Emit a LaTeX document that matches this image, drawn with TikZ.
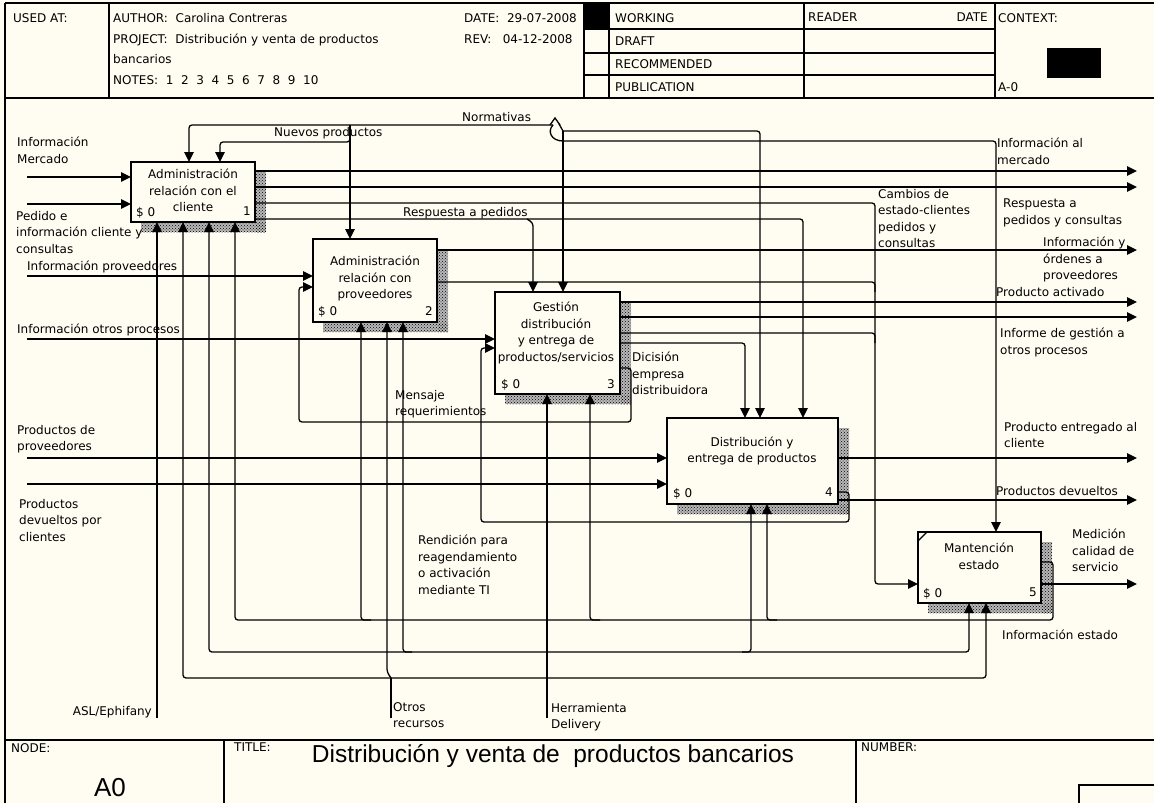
\documentclass[tikz,border=0pt]{standalone}
\usepackage{fontspec}
\setmainfont{DejaVu Sans}
\newfontfamily\arialfont{Liberation Sans}
\usetikzlibrary{arrows.meta,calc,patterns}
\definecolor{paper}{RGB}{255,253,242}
\newcommand\lf{\fontsize{12}{16.5}\selectfont}
\begin{document}
\begin{tikzpicture}[x=1pt,y=-1pt,
  lab/.style={anchor=north west,inner sep=0pt,align=left,font=\lf},
  labr/.style={anchor=north east,inner sep=0pt,align=right,font=\lf},
  btxt/.style={inner sep=0pt,align=center,font=\lf},
  ln/.style={draw,line width=1.3pt,rounded corners=3pt},
  arr/.style={ln,-{Triangle[length=10pt,width=9.5pt]}},
  proc/.style={draw,line width=1.5pt,fill=paper,anchor=north west,inner sep=0pt,outer sep=0pt},
  shdbase/.style={fill=black!28},
  shd/.style={pattern=crosshatch dots,pattern color=black},
  frm/.style={line width=1.9pt},
  thin/.style={line width=1.3pt}]

\fill[paper] (0,0) rectangle (1154,803);
\useasboundingbox (0,0) rectangle (1154,803);

% ---------- header ----------
\draw[frm] (5,3) -- (1154,3);
\draw[frm] (5,98) -- (1154,98);
\draw[frm] (5,3) -- (5,803);
\draw[thin] (109,3) -- (109,98);
\foreach \xx in {584,609,804,995} \draw[thin] (\xx,3) -- (\xx,98);
\foreach \yy in {29,53,75} \draw[thin] (584,\yy) -- (995,\yy);
\fill (584,3) rectangle (609,29);
\fill (1047,48) rectangle (1101,78);

\node[lab] (hUsed) at (13,13) {USED AT:};
\node[lab] (hAuth) at (113,13) {AUTHOR:\ \ Carolina Contreras};
\node[lab] (hProj) at (113,34) {PROJECT:\ \ Distribución y venta de productos};
\node[lab] (hProj2) at (113,54) {bancarios};
\node[lab] (hNotes) at (113,75) {NOTES:\ \ 1\ \ 2\ \ 3\ \ 4\ \ 5\ \ 6\ \ 7\ \ 8\ \ 9\ \ 10};
\node[lab] (hDate) at (464,13) {DATE:\ \ 29-07-2008};
\node[lab] (hRev) at (464,34) {REV:\ \ \ 04-12-2008};
\node[lab] (hWork) at (615,13) {WORKING};
\node[lab] (hDraft) at (615,37) {DRAFT};
\node[lab] (hRec) at (615,59) {RECOMMENDED};
\node[lab] (hPub) at (615,82) {PUBLICATION};
\node[lab] (hRead) at (808,13) {READER};
\node[labr] (hRDate) at (988,13) {DATE};
\node[lab] (hCtx) at (998,13) {CONTEXT:};
\node[lab] (hA0) at (998,82) {A-0};

% ---------- title block ----------
\draw[frm] (5,740) -- (1154,740);
\draw[thin] (224,740) -- (224,803);
\draw[thin] (856,740) -- (856,803);
\draw[thin] (1079,803) -- (1079,785) -- (1154,785);
\node[lab] (fNode) at (11,743) {NODE:};
\node[lab] (fTitle) at (234,743) {TITLE:};
\node[lab] (fNum) at (861,743) {NUMBER:};
\node[inner sep=0pt,font=\arialfont\fontsize{26}{28}\selectfont] (fA0) at (110,788) {A0};
\node[inner sep=0pt,font=\arialfont\fontsize{24.5}{28}\selectfont] (fTtl) at (553,756) {Distribución y venta de\ \ productos bancarios};

% ---------- activity boxes ----------
\node[proc,minimum width=124pt,minimum height=60pt] (b1) at (131,162) {};
\node[proc,minimum width=124pt,minimum height=83pt] (b2) at (313,239) {};
\node[proc,minimum width=125pt,minimum height=102pt] (b3) at (495,292) {};
\node[proc,minimum width=171pt,minimum height=86pt] (b4) at (667,418) {};
\node[proc,minimum width=123pt,minimum height=71pt] (b5) at (918,532) {};

% hatched drop shadows
\foreach \b in {b1,b2,b3,b4,b5} {
  \fill[shdbase] ($(\b.north east)+(1,10)$) rectangle ($(\b.south east)+(11,10)$);
  \fill[shdbase] ($(\b.south west)+(10,1)$) rectangle ($(\b.south east)+(11,10)$);
  \fill[shd] ($(\b.north east)+(1,10)$) rectangle ($(\b.south east)+(11,10)$);
  \fill[shd] ($(\b.south west)+(10,1)$) rectangle ($(\b.south east)+(11,10)$);
}
\draw[thin] ($(b5.north west)+(0,9)$) -- ($(b5.north west)+(9,0)$);

\node[btxt] (t1) at (193,190.5) {Administración\\relación con el\\cliente};
\node[btxt] (t2) at (375,278.5) {Administración\\relación con\\proveedores};
\node[btxt] (t3) at (556,333) {Gestión\\distribución\\y entrega de\\productos/servicios};
\node[btxt] (t4) at (752,451) {Distribución y\\entrega de productos};
\node[btxt] (t5) at (979,556.5) {Mantención\\estado};

\node[lab] (c1) at (136,207) {\$ 0};  \node[labr] (n1) at (251,207) {1};
\node[lab] (c2) at (318,306) {\$ 0};  \node[labr] (n2) at (433,306) {2};
\node[lab] (c3) at (501,379) {\$ 0};  \node[labr] (n3) at (615,379) {3};
\node[lab] (c4) at (673,488) {\$ 0};  \node[labr] (n4) at (833,488) {4};
\node[lab] (c5) at (923,588) {\$ 0};  \node[labr] (n5) at (1037,588) {5};

% ---------- boundary points ----------
\coordinate (iMerc) at (27,177);
\coordinate (iPed) at (27,204);
\coordinate (iProv) at (27,276);
\coordinate (iOtros) at (27,339);
\coordinate (iPdP) at (27,458);
\coordinate (iPdC) at (27,484);
\coordinate (oMerc) at (1137,171);
\coordinate (oResp) at (1137,187);
\coordinate (oOrd) at (1137,250);
\coordinate (oAct) at (1137,302);
\coordinate (oInf) at (1137,317);
\coordinate (oEnt) at (1137,458);
\coordinate (oDev) at (1137,500);
\coordinate (oMed) at (1137,584);
\coordinate (mASL) at (157,718);
\coordinate (mOtros) at (391,718);
\coordinate (mHerr) at (547,718);
\coordinate (jNorm) at (553,125);

% inputs
\draw[arr] (iMerc) -- (iMerc -| b1.west);
\draw[arr] (iPed) -- (iPed -| b1.west);
\draw[arr] (iProv) -- (iProv -| b2.west);
\draw[arr] (iOtros) -- (iOtros -| b3.west);
\draw[arr] (iPdP) -- (iPdP -| b4.west);
\draw[arr] (iPdC) -- (iPdC -| b4.west);

% outputs
\draw[arr] (b1.east |- oMerc) -- (oMerc);
\draw[arr] (b1.east |- oResp) -- (oResp);
\draw[arr] (b2.east |- oOrd) -- (oOrd);
\draw[arr] (b3.east |- oAct) -- (oAct);
\draw[arr] (b3.east |- oInf) -- (oInf);
\draw[arr] (b4.east |- oEnt) -- (oEnt);
\draw[arr] (b4.east |- oDev) -- (oDev);
\draw[arr] (b5.east |- oMed) -- (oMed);

% controls from the top
\draw[arr] (jNorm) -- (189,125) -- (b1.north -| 189,0);
\draw[arr] (350,125) -- (b2.north -| 350,0);
\draw[arr] (350,134) -- (350,142) -- (220,142) -- (b1.north -| 220,0);
\draw[thin] (550,125) -- (555,118) -- (560,125);
\draw[line width=1.3pt] (jNorm) .. controls (547,131) and (551,141) .. (563,141);
\draw[line width=1.3pt] (559,124) -- (563,131);
\draw[arr] (563,131) -- (b3.north -| 563,0);
\draw[arr] (563,131) -- (760,131) -- (b4.north -| 760,0);
\draw[arr] (563,141) -- (996,141) -- (b5.north -| 996,0);

% Respuesta a pedidos
\draw[arr] (b1.east |- 0,219) -- (803,219) -- (b4.north -| 803,0);
\draw[arr] (527,219) -- (533,223) -- (b3.north -| 533,0);

% Cambios de estado
\draw[arr] (b1.east |- 0,203) -- (875,203) -- (875,584) -- (b5.west |- 0,584);
\draw[ln] (b2.east |- 0,282) -- (875,282) -- (875,292);
\draw[ln] (b3.east |- 0,333) -- (875,333) -- (875,343);

% Gestion -> Distribucion
\draw[arr] (b3.east |- 0,343) -- (745,343) -- (b4.north -| 745,0);

% feedback loops
\draw[arr] (b3.east |- 0,368) -- (631,368) -- (631,422) -- (299,422) -- (299,287) -- (b2.west |- 0,287);
\draw[arr] (b4.east |- 0,492) -- (849,492) -- (849,522) -- (481,522) -- (481,348) -- (b3.west |- 0,348);

% Informacion estado
\draw[arr] (b5.east |- 0,562) -- (1053,562) -- (1053,620) -- (235,620) -- (b1.south -| 235,0);
\draw[arr] (371,620) -- (361,620) -- (b2.south -| 361,0);
\draw[arr] (600,620) -- (590,620) -- (b3.south -| 590,0);
\draw[arr] (777,620) -- (767,620) -- (b4.south -| 767,0);

% mechanisms
\draw[arr] (mASL) -- (mASL |- b1.south);
\draw[ln] (mOtros) -- (391,678);
\draw[arr] (391,678) -- (183,678) -- (b1.south -| 183,0);
\draw[arr] (391,678) -- (986,678) -- (b5.south -| 986,0);
\draw[arr] (391,678) -- (387,672) -- (b2.south -| 387,0);
\draw[arr] (mHerr) -- (b3.south -| 547,0);
\draw[arr] (547,652) -- (209,652) -- (b1.south -| 209,0);
\draw[arr] (547,652) -- (969,652) -- (b5.south -| 969,0);
\draw[arr] (412,652) -- (403,652) -- (b2.south -| 403,0);
\draw[arr] (742,652) -- (751,652) -- (b4.south -| 751,0);

% ---------- arrow labels ----------
\node[lab] (lMerc) at (17,137) {Información\\Mercado};
\node[lab] (lPed) at (16,211) {Pedido e\\información cliente y\\consultas};
\node[lab] (lProv) at (27,261) {Información proveedores};
\node[lab] (lOtros) at (17,324) {Información otros procesos};
\node[lab] (lPdP) at (17,425) {Productos de\\proveedores};
\node[lab] (lPdC) at (19,499) {Productos\\devueltos por\\clientes};
\node[labr] (lASL) at (152,706) {ASL/Ephifany};
\node[lab] (lOtR) at (393,702) {Otros\\recursos};
\node[lab] (lHer) at (551,703) {Herramienta\\Delivery};
\node[lab] (lNuev) at (274,127) {Nuevos productos};
\node[lab] (lNorm) at (462,112) {Normativas};
\node[lab] (lRsp) at (403,207) {Respuesta a pedidos};
\node[lab] (lMsj) at (395,390) {Mensaje\\requerimientos};
\node[lab] (lRen) at (418,535) {Rendición para\\reagendamiento\\o activación\\mediante TI};
\node[lab] (lDic) at (632,352) {Dicisión\\empresa\\distribuidora};
\node[lab] (lIMer) at (997,138) {Información al\\mercado};
\node[lab] (lCamb) at (878,189) {Cambios de\\estado-clientes\\pedidos y\\consultas};
\node[lab] (lRPC) at (1003,199) {Respuesta a\\pedidos y consultas};
\node[lab] (lIOrd) at (1043,237) {Información y\\órdenes a\\proveedores};
\node[lab] (lAct) at (996,287) {Producto activado};
\node[lab] (lInf) at (1000,328) {Informe de gestión a\\otros procesos};
\node[lab] (lEnt) at (1004,422) {Producto entregado al\\cliente};
\node[lab] (lDev) at (996,486) {Productos devueltos};
\node[lab] (lMed) at (1072,529) {Medición\\calidad de\\servicio};
\node[lab] (lEst) at (1002,630) {Información estado};
\end{tikzpicture}
\end{document}
